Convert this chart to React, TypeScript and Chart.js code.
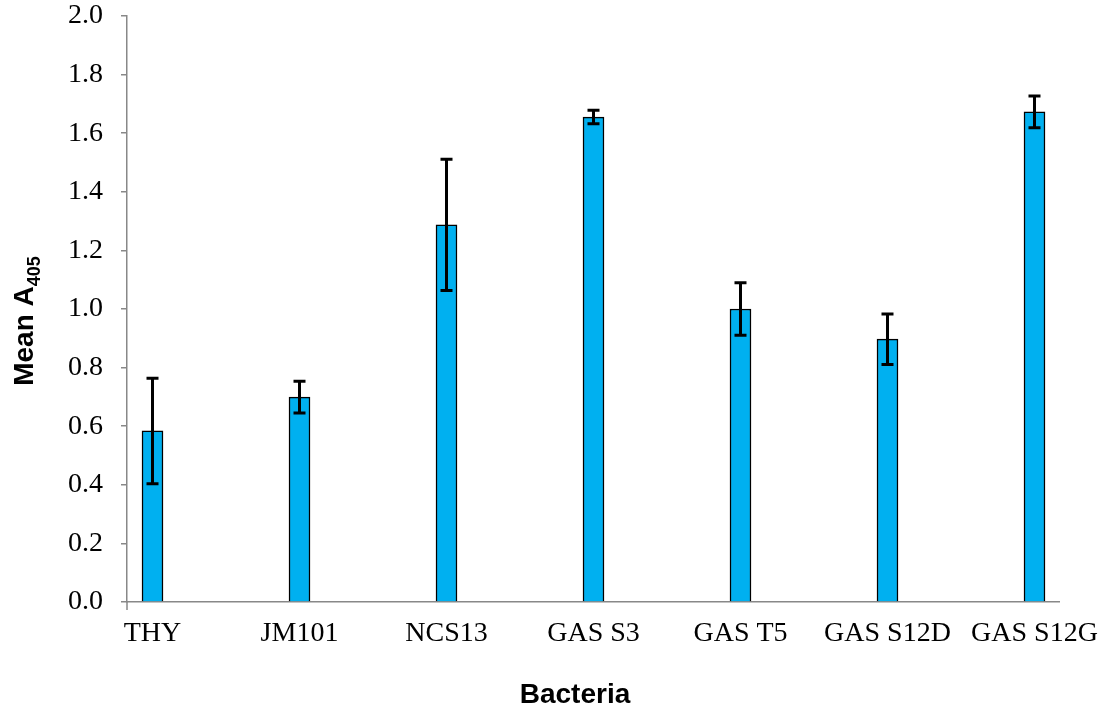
import React, { useEffect, useRef } from "react";
import { Chart, registerables } from "chart.js";

Chart.register(...registerables);

const categories = ["THY", "JM101", "NCS13", "GAS S3", "GAS T5", "GAS S12D", "GAS S12G"];
const meanValues = [0.584, 0.699, 1.287, 1.655, 1.0, 0.897, 1.673];
const errorValues = [0.18, 0.054, 0.224, 0.023, 0.09, 0.086, 0.054];
const yTickStep = 0.2;
const yMin = 0;
const yMax = 2.0;

const W = 1098;
const H = 707;

const serif = "'Liberation Serif', 'Times New Roman', serif";
const sans = "'Liberation Sans', Arial, sans-serif";

const extrasPlugin = {
  id: "extras",
  afterDatasetsDraw(chart: any) {
    const ctx = chart.ctx;
    const xs = chart.scales.x;
    const ys = chart.scales.y;
    ctx.save();
    ctx.strokeStyle = "#000";
    ctx.lineWidth = 3;
    ctx.lineCap = "butt";
    meanValues.forEach((m, i) => {
      const e = errorValues[i];
      const x = xs.getPixelForValue(i);
      const yt = ys.getPixelForValue(m + e);
      const yb = ys.getPixelForValue(m - e);
      ctx.beginPath();
      ctx.moveTo(x, yt);
      ctx.lineTo(x, yb);
      ctx.moveTo(x - 6, yt);
      ctx.lineTo(x + 6, yt);
      ctx.moveTo(x - 6, yb);
      ctx.lineTo(x + 6, yb);
      ctx.stroke();
    });
    ctx.restore();
  },
  afterDraw(chart: any) {
    const ctx = chart.ctx;
    const area = chart.chartArea;
    ctx.save();
    ctx.strokeStyle = "#888";
    ctx.lineWidth = 1.5;
    ctx.beginPath();
    ctx.moveTo(area.left, area.bottom);
    ctx.lineTo(area.left, area.bottom + 8);
    ctx.stroke();

    ctx.fillStyle = "#000";
    ctx.font = `bold 28px ${sans}`;
    ctx.textAlign = "center";
    ctx.textBaseline = "alphabetic";
    ctx.fillText("Bacteria", 575, 703);

    ctx.translate(33, 321);
    ctx.rotate(-Math.PI / 2);
    const main = "Mean A";
    const sub = "405";
    ctx.font = `bold 28px ${sans}`;
    const wMain = ctx.measureText(main).width;
    ctx.font = `bold 18px ${sans}`;
    const wSub = ctx.measureText(sub).width;
    const total = wMain + wSub;
    ctx.textAlign = "left";
    ctx.font = `bold 28px ${sans}`;
    ctx.fillText(main, -total / 2, 0);
    ctx.font = `bold 18px ${sans}`;
    ctx.fillText(sub, -total / 2 + wMain, 7);
    ctx.restore();
  },
};

export default function App() {
  const ref = useRef<HTMLCanvasElement | null>(null);
  useEffect(() => {
    if (!ref.current) return;
    const chart = new Chart(ref.current, {
      type: "bar",
      data: {
        datasets: [
          {
            label: "Mean A405",
            data: meanValues.map((v, i) => ({ x: i, y: v })),
            backgroundColor: "#00B0F0",
            borderColor: "#000000",
            borderWidth: 1.5,
            barThickness: 21,
          },
        ],
      },
      options: {
        animation: false,
        responsive: false,
        devicePixelRatio: 1,
        layout: { padding: { left: 0, top: 16, right: 39, bottom: 0 } },
        plugins: {
          legend: { display: false },
          tooltip: { enabled: false },
        },
        scales: {
          x: {
            type: "linear",
            offset: false,
            min: -0.1735,
            max: 6.1667,
            grid: { display: false, drawTicks: false, offset: false },
            border: { display: true, color: "#888", width: 1.5 },
            afterBuildTicks: (scale: any) => {
              scale.ticks = categories.map((_, i) => ({ value: i }));
            },
            afterFit: (scale: any) => {
              scale.height = 105;
              scale.paddingLeft = 0;
              scale.paddingRight = 0;
            },
            ticks: {
              autoSkip: false,
              maxRotation: 0,
              minRotation: 0,
              padding: 15,
              color: "#000",
              font: { family: serif, size: 28 },
              callback: (value: any) => categories[value as number] ?? "",
            },
          },
          y: {
            min: yMin,
            max: yMax,
            grid: {
              display: true,
              drawOnChartArea: false,
              drawTicks: true,
              tickLength: 6,
              color: "#888",
              lineWidth: 1.5,
            },
            border: { display: true, color: "#888", width: 1.5 },
            afterFit: (scale: any) => {
              scale.width = 127;
              scale.paddingTop = 0;
              scale.paddingBottom = 0;
            },
            ticks: {
              stepSize: yTickStep,
              padding: 18,
              color: "#000",
              font: { family: serif, size: 28 },
              callback: (value: any) => Number(value).toFixed(1),
            },
          },
        },
      },
      plugins: [extrasPlugin],
    });
    return () => chart.destroy();
  }, []);
  return (
    <div style={{ position: "fixed", left: 0, top: 0, width: W, height: H, background: "#fff" }}>
      <canvas ref={ref} width={W} height={H} style={{ width: W, height: H, display: "block" }} />
    </div>
  );
}
